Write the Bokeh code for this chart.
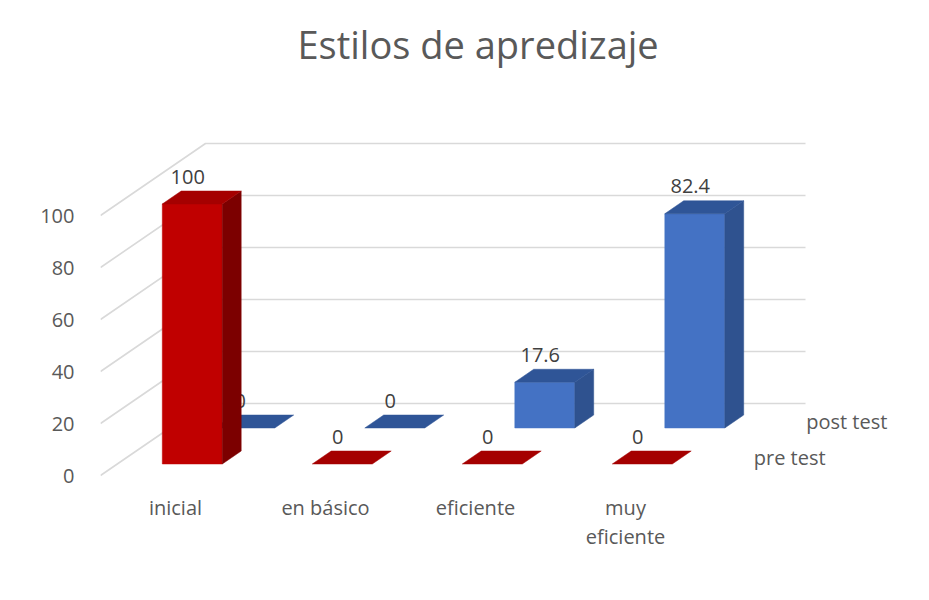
from bokeh.plotting import figure
from bokeh.models import Range1d, FixedTicker, LinearAxis, ColumnDataSource
from bokeh.core.properties import value
from bokeh.embed import file_html
from bokeh.resources import INLINE

# ---------------- data ----------------
title_text = "Estilos de apredizaje"
categories = ["inicial", "en básico", "eficiente", "muy eficiente"]
category_labels = ["inicial", "en básico", "eficiente", "muy\neficiente"]
series_names = ["pre test", "post test"]
pre_test = [100, 0, 0, 0]
post_test = [0, 0, 17.6, 82.4]
y_ticks = [0, 20, 40, 60, 80, 100]

# ---------------- 3D oblique projection (in data units) ----------------
PX_X = 150.0          # px per category slot
PX_Y = 2.6            # px per value unit
DX = 105.0 / PX_X     # depth shift along x (category units) for full depth
DY = 72.0 / PX_Y      # depth shift along y (value units) for full depth
BAR_L, BAR_R = 0.3, 0.7
DEPTH = {"pre test": (0.16, 0.34), "post test": (0.66, 0.84)}
COLORS = {
    "pre test": {"front": "#C00000", "side": "#7C0000", "top": "#A50000"},
    "post test": {"front": "#4472C4", "side": "#2F528F", "top": "#2F5597"},
}
FONT = "Open Sans"


def proj(x, d, v):
    return x + d * DX, v + d * DY


FRAME_W = 811
FRAME_H = 410
LEFT = 100
TOP = 75

p = figure(
    frame_width=FRAME_W,
    frame_height=FRAME_H,
    min_border_left=LEFT,
    min_border_right=913 - LEFT - FRAME_W,
    min_border_top=TOP,
    min_border_bottom=584 - TOP - FRAME_H,
    x_range=Range1d(0, FRAME_W / PX_X),
    y_range=Range1d(-10 / PX_Y, (FRAME_H - 10) / PX_Y),
    output_backend="svg",
    toolbar_location=None,
    x_axis_type=None,
    y_axis_type=None,
    title=title_text,
)
p.outline_line_color = None
p.background_fill_color = "white"
p.border_fill_color = "white"
p.xgrid.visible = False
p.ygrid.visible = False

p.title.text_font = FONT
p.title.text_font_size = "38px"
p.title.text_font_style = "normal"
p.title.text_color = "#595959"
p.title.align = "left"
p.title.offset = 197
p.title.standoff = 12

# ---------------- gridlines (floor-left diagonal + back wall) ----------------
n_cat = len(categories)
gx, gy = [], []
for t in y_ticks:
    x0, y0 = proj(0, 0, t)
    x1, y1 = proj(0, 1, t)
    x2, y2 = proj(n_cat, 1, t)
    gx.append([x0, x1, x2])
    gy.append([y0, y1, y2])
p.multi_line(gx, gy, line_color="#D9D9D9", line_width=1.6)

# ---------------- y axis (front plane) ----------------
yaxis = LinearAxis(
    ticker=FixedTicker(ticks=y_ticks),
    axis_line_color=None,
    major_tick_line_color=None,
    minor_tick_line_color=None,
    major_label_standoff=20,
    major_label_text_font=FONT,
    major_label_text_font_size="20px",
    major_label_text_color="#595959",
)
p.add_layout(yaxis, "left")

# ---------------- x axis (category labels) ----------------
xaxis = LinearAxis(
    ticker=FixedTicker(ticks=[i + 0.5 for i in range(n_cat)]),
    major_label_overrides={i + 0.5: lab for i, lab in enumerate(category_labels)},
    axis_line_color=None,
    major_tick_line_color=None,
    minor_tick_line_color=None,
    major_label_standoff=2,
    major_label_text_font=FONT,
    major_label_text_font_size="20px",
    major_label_text_color="#595959",
    major_label_text_line_height=1.1,
)
p.add_layout(xaxis, "below")


def bar_faces(values, name):
    d0, d1 = DEPTH[name]
    xs, ys, cols = [], [], []
    for i, v in enumerate(values):
        xl, xr = i + BAR_L, i + BAR_R
        faces = []
        if v > 0:
            faces.append(("front", [(xl, d0, 0), (xr, d0, 0), (xr, d0, v), (xl, d0, v)]))
            faces.append(("side", [(xr, d0, 0), (xr, d1, 0), (xr, d1, v), (xr, d0, v)]))
        faces.append(("top", [(xl, d0, v), (xr, d0, v), (xr, d1, v), (xl, d1, v)]))
        for face, pts in faces:
            pp = [proj(*q) for q in pts]
            xs.append([a for a, _ in pp])
            ys.append([b for _, b in pp])
            cols.append(COLORS[name][face])
    return ColumnDataSource(dict(xs=xs, ys=ys, color=cols))


def bar_labels(values, name):
    d0, d1 = DEPTH[name]
    dc = (d0 + d1) / 2
    lx, ly, txt = [], [], []
    for i, v in enumerate(values):
        cx, cy = proj(i + (BAR_L + BAR_R) / 2, dc, v)
        lx.append(cx - 14 / PX_X)
        ly.append(cy + 21 / PX_Y)
        txt.append(f"{v:g}")
    return ColumnDataSource(dict(x=lx, y=ly, text=txt))


# back row (post test), then its labels, then front row (pre test)
for name, vals in (("post test", post_test), ("pre test", pre_test)):
    src = bar_faces(vals, name)
    p.patches("xs", "ys", source=src, fill_color="color", line_color="color", line_width=0.5)
    lab = bar_labels(vals, name)
    p.text("x", "y", text="text", source=lab, text_align="center", text_baseline="middle",
           text_font=value(FONT), text_font_size="20px", text_color="#404040")

# ---------------- series (depth axis) labels ----------------
sx, sy = [], []
for name in series_names:
    d0, d1 = DEPTH[name]
    x, y = proj(n_cat, (d0 + d1) / 2, 0)
    sx.append(x + 27 / PX_X)
    sy.append(y)
p.text(sx, sy, text=series_names, text_align="left", text_baseline="middle",
       text_font=value(FONT), text_font_size="20px", text_color="#595959")

open("out.html", "w").write(file_html(p, INLINE))
